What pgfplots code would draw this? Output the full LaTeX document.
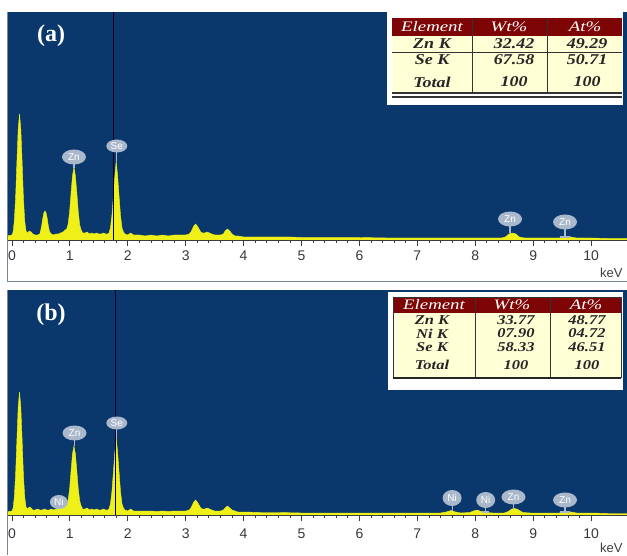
\documentclass[border=0pt]{standalone}
\usepackage{fontspec}
\setmainfont{Liberation Serif}
\setsansfont{Liberation Sans}
\usepackage{graphicx}
\usepackage{pgfplots}
\pgfplotsset{compat=1.18}
\usetikzlibrary{shapes.geometric}
\definecolor{edsblue}{RGB}{10,55,108}
\definecolor{specy}{RGB}{240,240,25}
\definecolor{bubc}{RGB}{170,184,204}
\definecolor{hdrred}{RGB}{125,5,5}
\definecolor{cream}{RGB}{255,255,214}
\definecolor{framec}{RGB}{120,135,150}
\definecolor{tickc}{RGB}{60,60,60}

\pgfplotstableread{
x y
-0.086 4
0.00 5
0.02 8
0.04 19
0.0625 42
0.085 78
0.1075 111
0.13 126
0.1525 111
0.175 78
0.1975 42
0.22 19
0.2425 9
0.27 7
0.30 9
0.33 8
0.36 6
0.40 5
0.44 5
0.48 6
0.51 13
0.53 21
0.55 27
0.57 29
0.59 27
0.61 21
0.63 13
0.65 8
0.68 6
0.72 5
0.76 6
0.80 6
0.84 7
0.88 8
0.92 10
0.945 11
0.97 16
0.995 28
1.02 47
1.045 64
1.07 73
1.095 64
1.12 47
1.145 28
1.17 15
1.195 10
1.22 7
1.26 7
1.30 8
1.34 6
1.38 7
1.42 6
1.46 7
1.50 6
1.54 6
1.58 7
1.62 6
1.65 6
1.675 7
1.70 12
1.725 24
1.75 43
1.775 63
1.80 79
1.825 63
1.85 43
1.875 24
1.90 12
1.925 8
1.95 6
2.00 5
2.05 7
2.10 5
2.2 5
2.3 4
2.4 5
2.5 4
2.6 5
2.7 4
2.8 5
2.9 5
3.0 5
3.06 6
3.09 8
3.115 11
3.14 14
3.17 16
3.20 14
3.23 11
3.26 8
3.29 7
3.33 7
3.37 8
3.41 7
3.45 6
3.50 5
3.55 5
3.60 5
3.65 6
3.68 9
3.72 11
3.76 9
3.80 6
3.85 4
3.9 4
4.0 3
4.2 3
4.4 3
4.6 3
4.8 3
5.0 2.5
5.3 2.5
5.6 2.5
6.0 2.5
6.5 2
7.0 2
7.5 2
8.0 2
8.45 2
8.52 3
8.58 6
8.64 7
8.70 6
8.76 3
8.85 2
9.0 2
9.45 2
9.52 3
9.58 3.5
9.65 3
9.75 2
10.0 2
10.3 1.5
10.62 1.5
}\specA

\pgfplotstableread{
x y
-0.086 3
0.00 4
0.02 7
0.04 18
0.0625 40
0.085 75
0.1075 108
0.13 123
0.1525 108
0.175 75
0.1975 40
0.22 18
0.2425 8
0.27 6
0.30 8
0.33 7
0.36 5
0.40 5
0.44 6
0.48 5
0.52 5
0.56 6
0.60 5
0.64 5
0.68 6
0.72 5
0.76 6
0.80 7
0.84 8
0.88 8
0.92 9
0.945 10
0.97 15
0.995 26
1.02 44
1.045 61
1.07 69
1.095 61
1.12 44
1.145 26
1.17 14
1.195 9
1.22 6
1.26 6
1.30 7
1.34 5
1.38 6
1.42 5
1.46 6
1.50 5
1.54 5
1.58 6
1.62 5
1.65 5
1.675 6
1.70 11
1.725 23
1.75 42
1.775 62
1.80 77
1.825 62
1.85 42
1.875 23
1.90 11
1.925 7
1.95 5
2.00 4
2.05 6
2.10 4
2.2 4
2.3 4
2.4 4
2.5 3.5
2.6 4
2.7 3.5
2.8 4
2.9 4
3.0 4
3.06 5
3.09 7
3.115 10
3.14 13
3.17 15
3.20 13
3.23 10
3.26 7
3.29 6
3.33 6
3.37 7
3.41 6
3.45 5
3.50 4
3.55 4
3.60 4
3.65 5
3.68 7
3.72 9
3.76 7
3.80 5
3.85 4
3.9 3
4.0 3
4.3 2.5
4.6 2.5
5.0 2
5.5 2
6.0 2
6.5 2
7.0 2
7.40 2
7.50 3
7.58 4.5
7.66 3
7.75 2
7.90 2.5
7.97 4
8.03 5
8.10 3.5
8.2 2.5
8.3 2
8.50 2
8.57 3.5
8.63 6
8.69 6.5
8.75 5
8.82 2.5
8.95 2
9.45 2
9.52 3
9.58 3.5
9.65 3
9.75 2
10.0 2
10.3 1.5
10.62 1.5
}\specB

\pgfplotsset{
  edsaxis/.style={
    scale only axis, width=620pt,
    xmin=-0.086, xmax=10.62, ymin=0,
    axis line style={draw=none},
    axis background/.style={fill=edsblue},
    xtick={0,1,2,3,4,5,6,7,8,9,10},
    minor x tick num=4,
    xtick pos=bottom,
    tick align=outside,
    major tick length=6pt, minor tick length=3pt,
    every tick/.style={draw=tickc, line width=0.8pt},
    ytick=\empty,
    /pgf/number format/assume math mode=true,
    xticklabel style={font=\sffamily\fontsize{14}{14}\selectfont, text=black!78},
    clip=false,
  },
}
\tikzset{
  bub/.style={ellipse, fill=bubc, inner sep=0pt, minimum width=24pt, minimum height=15pt,
    font=\sffamily\fontsize{10}{10}\selectfont, text=white},
  bubs/.style={bub, minimum width=21pt, minimum height=13pt},
}

\newcommand{\tb}[1]{\scalebox{1.2}[1]{\fontsize{15}{15}\selectfont\bfseries\itshape #1}}
\newcommand{\tbb}[1]{\scalebox{1.22}[1]{\fontsize{13.5}{13.5}\selectfont\bfseries\itshape #1}}
\newcommand{\thd}[1]{\scalebox{1.3}[1]{\fontsize{14.5}{14.5}\selectfont\itshape #1}}

\begin{document}
\begin{tikzpicture}[x=1pt,y=1pt]
\useasboundingbox (0,0) rectangle (627,555);
\fill[white] (0,0) rectangle (627,555);

% ---------- panel (a) ----------
\begin{axis}[edsaxis, at={(7pt,315pt)}, anchor=south west, height=228pt, ymax=228,
  xticklabel style={yshift=-1pt}]
\addplot[fill=specy, draw=specy, line width=0.4pt] table[x=x,y=y] {\specA} \closedcycle;
\addplot[draw=black!85!blue, line width=0.9pt] coordinates {(1.76,0) (1.76,228)};
\draw[tickc, line width=0.9pt] (rel axis cs:0,0) -- (rel axis cs:1,0);
\draw[bubc, line width=1.2pt] (axis cs:1.07,72) -- (axis cs:1.07,80);
\node[bub] at (axis cs:1.07,83) {Zn};
\draw[bubc, line width=1.2pt] (axis cs:1.81,79) -- (axis cs:1.81,92);
\node[bubs] at (axis cs:1.81,94) {Se};
\draw[bubc, line width=1.2pt] (axis cs:8.60,7) -- (axis cs:8.60,18);
\node[bub] at (axis cs:8.60,21) {Zn};
\draw[bubc, line width=1.2pt] (axis cs:9.55,3) -- (axis cs:9.55,15);
\draw[bubc, line width=1.2pt] (axis cs:9.47,3) -- (axis cs:9.63,3);
\node[bub] at (axis cs:9.55,18) {Zn};
\end{axis}

% ---------- panel (b) ----------
\begin{axis}[edsaxis, at={(7pt,40pt)}, anchor=south west, height=225pt, ymax=225,
  xticklabel style={yshift=-4pt}]
\addplot[fill=specy, draw=specy, line width=0.4pt] table[x=x,y=y] {\specB} \closedcycle;
\addplot[draw=black!85!blue, line width=0.9pt] coordinates {(1.78,0) (1.78,225)};
\draw[tickc, line width=0.9pt] (rel axis cs:0,0) -- (rel axis cs:1,0);
\draw[bubc, line width=1.2pt] (axis cs:1.08,69) -- (axis cs:1.08,78);
\node[bub] at (axis cs:1.08,82) {Zn};
\draw[bubc, line width=1.2pt] (axis cs:1.81,77) -- (axis cs:1.81,90);
\node[bubs] at (axis cs:1.81,92) {Se};
\node[bubs, minimum width=18pt, minimum height=14pt] at (axis cs:0.81,13) {Ni};
\draw[bubc, line width=1.2pt] (axis cs:7.60,4) -- (axis cs:7.60,12);
\node[bubs, minimum width=19pt, minimum height=16pt] at (axis cs:7.60,17) {Ni};
\draw[bubc, line width=1.2pt] (axis cs:8.18,3) -- (axis cs:8.18,10);
\draw[bubc, line width=1.2pt] (axis cs:8.12,3) -- (axis cs:8.24,3);
\node[bubs, minimum width=19pt, minimum height=16pt] at (axis cs:8.18,15) {Ni};
\draw[bubc, line width=1.2pt] (axis cs:8.66,6) -- (axis cs:8.66,14);
\node[bub] at (axis cs:8.66,18) {Zn};
\draw[bubc, line width=1.2pt] (axis cs:9.55,3) -- (axis cs:9.55,12);
\draw[bubc, line width=1.2pt] (axis cs:9.47,3) -- (axis cs:9.63,3);
\node[bub] at (axis cs:9.55,15) {Zn};
\end{axis}

% ---------- frames ----------
\draw[framec, line width=1pt] (7.5,543) -- (7.5,273.5) -- (627,273.5);
\draw[framec, line width=1pt] (7.5,265) -- (7.5,0);
\node[anchor=east, font=\sffamily\fontsize{13}{13}\selectfont, text=black!75] at (626,282) {keV};
\node[anchor=east, font=\sffamily\fontsize{13}{13}\selectfont, text=black!75] at (626,7) {keV};

% ---------- panel labels ----------
\node[text=white, font=\fontsize{24}{24}\selectfont\bfseries] at (51,519) {(a)};
\node[text=white, font=\fontsize{24}{24}\selectfont\bfseries] at (51,240) {(b)};

% ---------- table (a) ----------
\fill[white] (387,450) rectangle (623,543);
\fill[cream] (392,462) rectangle (622,519);
\fill[hdrred] (392,519) rectangle (622,537);
\draw[black!80, line width=0.7pt] (472,463) -- (472,537);
\draw[black!80, line width=0.7pt] (547,463) -- (547,537);
\draw[black!80, line width=0.7pt] (392,503) -- (622,503);
\draw[black!80, line width=1.3pt] (392,462) -- (622,462);
\draw[black!80, line width=1.3pt] (392,458) -- (622,458);
\node[text=white] at (432,528) {\thd{Element}};
\node[text=white] at (509,528) {\thd{Wt\%}};
\node[text=white] at (585,528) {\thd{At\%}};
\node[text=black!85] at (432,511) {\tb{Zn K}};
\node[text=black!85] at (514,511) {\tb{32.42}};
\node[text=black!85] at (587,511) {\tb{49.29}};
\node[text=black!85] at (432,495) {\tb{Se K}};
\node[text=black!85] at (514,495) {\tb{67.58}};
\node[text=black!85] at (587,495) {\tb{50.71}};
\node[text=black!85] at (432,473) {\tb{Total}};
\node[text=black!85] at (514,473) {\tb{100}};
\node[text=black!85] at (587,473) {\tb{100}};

% ---------- table (b) ----------
\fill[white] (388,165) rectangle (623,263);
\fill[cream] (393,178) rectangle (621,242);
\fill[hdrred] (393,242) rectangle (621,258);
\draw[black!80, line width=0.7pt] (475,178) -- (475,258);
\draw[black!80, line width=0.7pt] (550,178) -- (550,258);
\draw[black!80, line width=0.9pt] (393,178) rectangle (621,258);
\draw[black!85, line width=2pt] (393,177) -- (621,177);
\node[text=white] at (434,250) {\thd{Element}};
\node[text=white] at (512,250) {\thd{Wt\%}};
\node[text=white] at (586,250) {\thd{At\%}};
\node[text=black!85] at (432,235) {\tbb{Zn K}};
\node[text=black!85] at (516,235) {\tbb{33.77}};
\node[text=black!85] at (587,235) {\tbb{48.77}};
\node[text=black!85] at (432,221.5) {\tbb{Ni K}};
\node[text=black!85] at (516,221.5) {\tbb{07.90}};
\node[text=black!85] at (587,221.5) {\tbb{04.72}};
\node[text=black!85] at (432,208) {\tbb{Se K}};
\node[text=black!85] at (516,208) {\tbb{58.33}};
\node[text=black!85] at (587,208) {\tbb{46.51}};
\node[text=black!85] at (432,190) {\tbb{Total}};
\node[text=black!85] at (516,190) {\tbb{100}};
\node[text=black!85] at (587,190) {\tbb{100}};
\end{tikzpicture}
\end{document}
